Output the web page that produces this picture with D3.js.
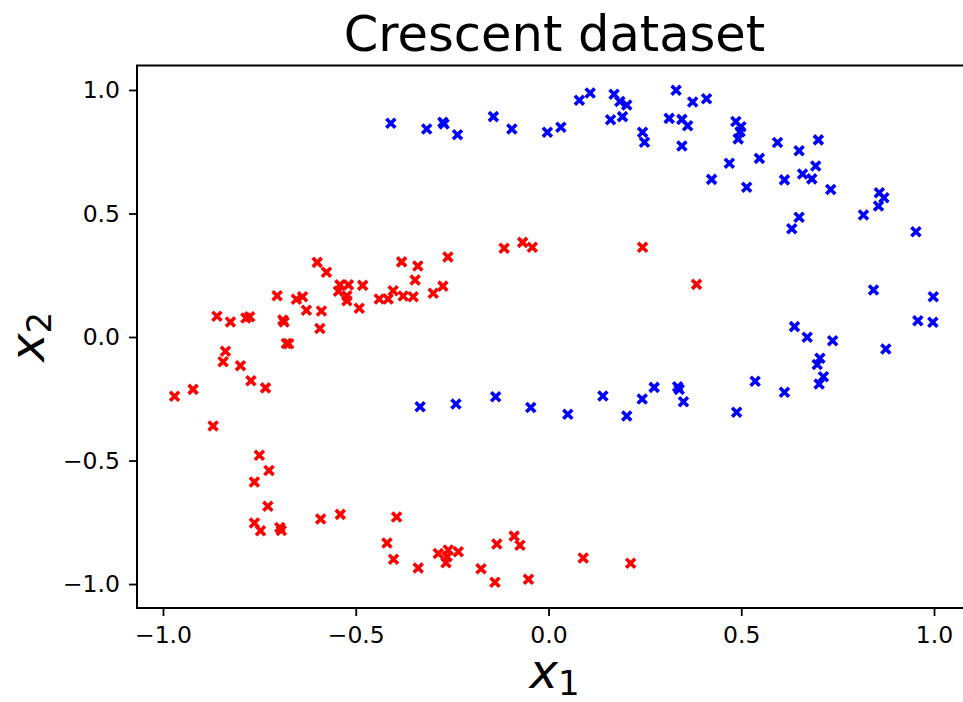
<!DOCTYPE html>
<html>
<head>
<meta charset="utf-8">
<script src="https://cdn.jsdelivr.net/npm/d3@7"></script>
<style>
    body { margin: 0; background: #fff; }
    svg { display: block; font-family: "DejaVu Sans", sans-serif; }
    .tick text { font-size: 23.5px; fill: #000; }
</style>
</head>
<body>
<div id="chart"></div>
<script>
// DATA
const redX = [-0.600, -0.576, -0.545, -0.704, -0.654, -0.638, -0.628, -0.589, -0.593, -0.860,
    -0.825, -0.785, -0.775, -0.689, -0.686, -0.680, -0.674, -0.838, -0.844, -0.799,
    -0.772, -0.734, -0.922, -0.970, -0.870, -0.541, -0.519, -0.523, -0.523, -0.482,
    -0.491, -0.439, -0.416, -0.403, -0.381, -0.339, -0.346, -0.377, -0.351, -0.299,
    -0.274, -0.261, -0.115, -0.067, -0.042, 0.244, 0.384, -0.750, -0.725, -0.763,
    -0.728, -0.763, -0.747, -0.697, -0.693, -0.591, -0.540, -0.394, -0.419, -0.402,
    -0.338, -0.286, -0.260, -0.263, -0.266, -0.234, -0.175, -0.139, -0.134, -0.089,
    -0.074, -0.052, 0.090, 0.213];
const redY = [0.302, 0.262, 0.185, 0.167, 0.153, 0.163, 0.108, 0.105, 0.034, 0.084,
    0.061, 0.077, 0.082, 0.069, 0.061, -0.026, -0.027, -0.058, -0.100, -0.116,
    -0.177, -0.206, -0.212, -0.240, -0.360, 0.211, 0.211, 0.167, 0.147, 0.209,
    0.116, 0.154, 0.154, 0.187, 0.304, 0.287, 0.231, 0.166, 0.163, 0.177,
    0.206, 0.324, 0.359, 0.383, 0.363, 0.363, 0.213, -0.479, -0.540, -0.587,
    -0.685, -0.753, -0.784, -0.771, -0.783, -0.737, -0.718, -0.729, -0.834, -0.900,
    -0.935, -0.876, -0.862, -0.889, -0.914, -0.869, -0.938, -0.993, -0.838, -0.806,
    -0.843, -0.981, -0.895, -0.916];

const blueX = [-0.409, -0.316, -0.274, -0.271, -0.236, -0.143, -0.095, -0.003, 0.032, 0.080,
    0.108, 0.170, 0.185, 0.203, 0.161, 0.192, 0.331, 0.374, 0.410, 0.313,
    0.346, 0.361, 0.244, 0.249, 0.346, 0.486, 0.499, 0.497, 0.492, 0.594,
    0.650, 0.700, 0.469, 0.547, 0.423, 0.514, 0.612, 0.659, 0.683, 0.693,
    0.732, 0.858, 0.870, 0.856, 0.817, 0.650, 0.631, 0.953, 0.843, 0.998,
    0.958, 0.997, 0.638, 0.671, 0.737, 0.875, 0.704, 0.697, 0.713, 0.702,
    0.612, -0.333, -0.240, -0.137, -0.046, 0.050, 0.141, 0.203, 0.243, 0.274,
    0.335, 0.339, 0.350, 0.488, 0.536];
const blueY = [0.865, 0.842, 0.869, 0.862, 0.819, 0.892, 0.842, 0.829, 0.849, 0.958,
    0.988, 0.983, 0.953, 0.939, 0.879, 0.892, 0.999, 0.951, 0.964, 0.885,
    0.881, 0.855, 0.829, 0.788, 0.773, 0.872, 0.851, 0.831, 0.802, 0.787,
    0.754, 0.798, 0.703, 0.723, 0.638, 0.606, 0.636, 0.660, 0.640, 0.692,
    0.597, 0.584, 0.564, 0.530, 0.494, 0.485, 0.438, 0.426, 0.190, 0.163,
    0.066, 0.060, 0.042, -0.001, -0.015, -0.049, -0.086, -0.111, -0.161, -0.190,
    -0.224, -0.282, -0.271, -0.242, -0.285, -0.313, -0.239, -0.320, -0.251, -0.204,
    -0.201, -0.212, -0.262, -0.305, -0.179];

const xTicks = [-1.0, -0.5, 0.0, 0.5, 1.0];
const yTicks = [-1.0, -0.5, 0.0, 0.5, 1.0];
const xLim = [-1.0674, 1.0985];
const yLim = [-1.097, 1.099];

// LAYOUT
const width = 963;
const height = 702;
const plot = {left: 137, top: 65.5, right: 972, bottom: 608};
const markerR = 4.5;

const series = [
    {color: "#ff0000", xs: redX, ys: redY},
    {color: "#0000ff", xs: blueX, ys: blueY}
];

// CHART SETUP
const xScale = d3.scaleLinear()
    .domain(xLim)
    .range([plot.left, plot.right]);

const yScale = d3.scaleLinear()
    .domain(yLim)
    .range([plot.bottom, plot.top]);

const svg = d3.select("#chart")
    .append("svg")
    .attr("width", width)
    .attr("height", height);

const fmt = d3.format(".1f");

const xAxis = svg.append("g")
    .attr("transform", `translate(0, ${plot.bottom})`)
    .call(d3.axisBottom(xScale).tickValues(xTicks).tickFormat(fmt).tickSize(8).tickPadding(10));

const yAxis = svg.append("g")
    .attr("transform", `translate(${plot.left}, 0)`)
    .call(d3.axisLeft(yScale).tickValues(yTicks).tickFormat(fmt).tickSize(8).tickPadding(9));

[xAxis, yAxis].forEach(ax => {
    ax.select(".domain").remove();
    ax.selectAll(".tick line").attr("stroke", "#000").attr("stroke-width", 1.8);
    ax.selectAll(".tick text").attr("font-family", "DejaVu Sans");
});

// frame
svg.append("rect")
    .attr("x", plot.left)
    .attr("y", plot.top)
    .attr("width", plot.right - plot.left)
    .attr("height", plot.bottom - plot.top)
    .attr("fill", "none")
    .attr("stroke", "#000")
    .attr("stroke-width", 2);

// points
const pointsG = svg.append("g");

series.forEach(s => {
    const pts = s.xs.map((x, i) => [x, s.ys[i]]);
    pointsG.append("g")
        .selectAll("path")
        .data(pts)
        .join("path")
        .attr("transform", d => `translate(${xScale(d[0])}, ${yScale(d[1])})`)
        .attr("d", `M ${-markerR} ${-markerR} L ${markerR} ${markerR} M ${-markerR} ${markerR} L ${markerR} ${-markerR}`)
        .attr("stroke", s.color)
        .attr("stroke-width", 3.6)
        .attr("fill", "none");
});

// title
svg.append("text")
    .attr("x", (plot.left + plot.right) / 2)
    .attr("y", 51)
    .attr("text-anchor", "middle")
    .attr("font-size", 49.5)
    .text("Crescent dataset");

// axis labels
const xLabel = svg.append("text")
    .attr("x", (plot.left + plot.right) / 2)
    .attr("y", 688)
    .attr("text-anchor", "middle")
    .attr("font-size", 48);
xLabel.append("tspan").attr("font-style", "italic").text("x");
xLabel.append("tspan").attr("font-size", 34).attr("dy", 7).text("1");

const yLabel = svg.append("text")
    .attr("transform", `translate(44, ${(plot.top + plot.bottom) / 2}) rotate(-90)`)
    .attr("text-anchor", "middle")
    .attr("font-size", 48);
yLabel.append("tspan").attr("font-style", "italic").text("x");
yLabel.append("tspan").attr("font-size", 34).attr("dy", 7).text("2");
</script>
</body>
</html>
